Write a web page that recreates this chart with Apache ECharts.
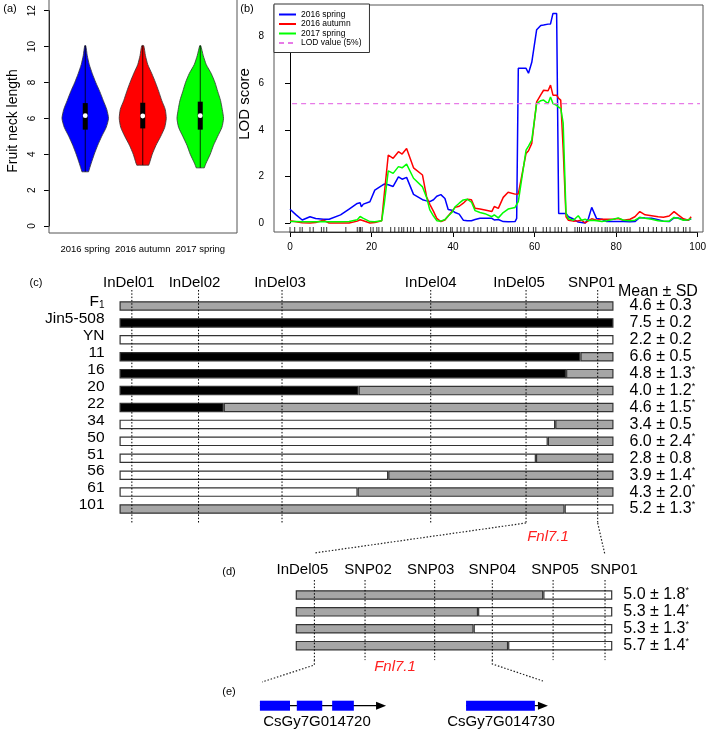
<!DOCTYPE html>
<html><head><meta charset="utf-8">
<script src="https://cdn.jsdelivr.net/npm/echarts@6/dist/echarts.min.js"></script>
<style>html,body{margin:0;padding:0;background:#fff}#c{width:709px;height:733px}</style>
</head><body><div id="c"></div>
<script>
// ---------- (a) violin data ----------
const violinCats = ['2016 spring', '2016 autumn', '2017 spring'];
const vY16s = [3.02, 3.5, 4, 4.5, 5, 5.5, 6, 6.5, 7, 7.5, 8, 8.5, 9, 9.5, 10.05];
const vW16s = [0.057, 0.104, 0.157, 0.217, 0.287, 0.365, 0.405, 0.374, 0.313, 0.252, 0.183, 0.122, 0.070, 0.035, 0.009];
const vY16a = [3.39, 3.5, 4, 4.5, 5, 5.5, 6, 6.5, 7, 7.5, 8, 8.5, 9, 9.5, 10.05];
const vW16a = [0.104, 0.117, 0.165, 0.231, 0.313, 0.383, 0.409, 0.391, 0.330, 0.278, 0.221, 0.157, 0.087, 0.047, 0.017];
const vY17s = [3.24, 3.5, 4, 4.5, 5, 5.5, 6, 6.5, 7, 7.5, 8, 8.5, 9, 9.5, 10.05];
const vW17s = [0.070, 0.101, 0.174, 0.231, 0.304, 0.377, 0.405, 0.383, 0.353, 0.304, 0.256, 0.191, 0.104, 0.052, 0.009];
const vQ1 = [5.37, 5.44, 5.37];
const vMed = [6.15, 6.13, 6.15];
const vQ3 = [6.85, 6.87, 6.93];
const vMin = [3.02, 3.39, 3.24];
const vMax = [10.05, 10.05, 10.05];
const violinColors = ['#0000ff', '#ff0000', '#00ff00'];

// ---------- (b) LOD data ----------
const lodNames = ['2016 spring', '2016 autumn', '2017 spring'];
const lodPos = [0,1.5,3,4.9,6.3,8.2,9.6,12.4,14.5,16.5,17.2,17.5,18,19.6,20.8,22.5,23.1,24.1,25.3,26.6,27.5,28.6,30.3,32.5,33.5,34.3,35.2,36.0,37.0,38.0,38.8,39.7,40.5,41.5,42.5,43.5,44.5,45.4,46.6,47.8,49.5,50.1,51.1,52.3,53.5,55.2,55.6,56.0,56.4,57.9,58.5,59.3,60.5,61.5,62.2,63.3,63.9,64.5,65.4,65.9,66.4,67.0,67.7,68.3,69.5,70.7,71.5,72.4,73.2,74.0,74.4,75.2,76.5,77.7,79.3,80.5,81.8,83.4,84.6,85.8,87.1,88.7,90.3,91.6,93.0,94.2,95.2,96.5,97.7,98.4];
const lodSpring16 = [0.59,0.35,0.13,0.27,0.19,0.16,0.16,0.35,0.6,0.84,0.87,0.7,0.81,0.91,1.41,1.6,1.67,1.64,1.57,1.98,1.88,1.96,1.23,1.0,0.95,0.92,1.0,1.15,1.22,1.05,0.58,0.55,0.45,0.38,0.12,0.1,0.1,0.15,0.2,0.2,0.2,0.13,0.15,0.06,0.05,0.06,0.2,6.64,6.64,6.64,6.43,6.9,8.3,8.48,8.5,8.54,8.55,9.0,9.0,0.41,0.41,0.41,0.41,0.27,0.17,0.04,0.02,0.0,0.19,0.67,0.67,0.19,0.16,0.06,0.06,0.06,0.06,0.05,0.06,0.24,0.22,0.2,0.14,0.08,0.06,0.22,0.22,0.14,0.12,0.19];
const lodAutumn16 = [0.1,0.05,0.01,0.0,0.02,0.12,0.0,0.0,0.0,0.08,0.14,0.16,0.1,0.0,0.02,0.1,1.2,2.92,2.78,3.06,2.96,3.2,2.37,2.06,1.13,0.8,0.5,0.2,0.06,0.13,0.3,0.49,0.67,0.72,0.85,1.02,1.0,0.63,0.6,0.56,0.49,0.71,0.63,1.1,1.32,1.24,1.24,1.25,1.27,2.99,3.1,3.42,5.2,5.5,5.7,5.68,5.92,5.49,5.49,5.35,5.28,3.2,0.27,0.12,0.08,0.1,0.12,0.0,0.1,0.18,0.17,0.12,0.16,0.16,0.16,0.19,0.12,0.16,0.27,0.49,0.35,0.31,0.27,0.25,0.3,0.49,0.35,0.18,0.12,0.27];
const lodSpring17 = [0.06,0.06,0.05,0.05,0.05,0.06,0.05,0.05,0.06,0.14,0.28,0.35,0.2,0.06,0.05,0.1,0.8,2.24,2.13,2.42,2.37,2.53,1.92,1.55,1.1,0.56,0.3,0.1,0.08,0.15,0.3,0.45,0.7,0.85,0.99,1.02,0.9,0.53,0.45,0.4,0.27,0.35,0.22,0.45,0.6,0.67,0.8,0.92,0.85,3.13,3.3,3.56,5.13,5.25,5.28,5.13,5.41,5.13,5.05,4.97,4.92,4.3,0.4,0.18,0.12,0.31,0.12,0.16,0.1,0.12,0.12,0.1,0.06,0.1,0.16,0.22,0.12,0.1,0.12,0.24,0.2,0.16,0.1,0.08,0.08,0.24,0.2,0.12,0.14,0.19];
const lodThresholdName = 'LOD value (5%)';
const lodThreshold = 5.13;
const lodBoxX = [-3.9, 101.3];
const rugPos = [0,1.15,2.45,3.0,4.9,5.7,7.7,8.3,9.0,13.7,16.5,17.0,17.3,17.7,19.8,20.4,21.3,21.8,22.6,24.7,25.7,26.7,27.4,27.9,28.8,29.6,30.3,32.0,33.5,34.1,34.9,36.1,37.0,37.6,38.4,39.4,39.8,41.0,41.9,42.7,43.9,45.1,46.1,46.8,48.4,49.4,50.0,50.7,52.3,53.5,54.1,54.6,55.2,55.8,56.3,57.2,58.5,59.7,60.3,62.1,62.9,63.8,65.0,65.8,66.6,67.9,69.9,70.5,71.0,71.5,72.4,73.2,74.0,74.8,75.6,76.5,77.3,77.8,78.5,79.2,80.0,80.5,81.2,82.0,82.7,83.4,85.8,86.7,87.9,89.1,89.9,91.2,92.4,93.2,94.4,95.2,96.5,97.1,98.1];

// ---------- (c) graphical genotypes ----------
const cRows = ['F1', 'Jin5-508', 'YN', '11', '16', '20', '22', '34', '50', '51', '56', '61', '101'];
const cBreak = [100, 100, 100, 93.3, 90.4, 48.4, 21.1, 88.2, 86.7, 84.3, 54.4, 48.2, 90.1];
const cLeft  = ['H', 'A', 'B', 'A', 'A', 'A', 'A', 'B', 'B', 'B', 'B', 'B', 'H'];
const cRight = ['H', 'A', 'B', 'H', 'H', 'H', 'H', 'H', 'H', 'H', 'H', 'H', 'B'];
const cMean = [4.6, 7.5, 2.2, 6.6, 4.8, 4.0, 4.6, 3.4, 6.0, 2.8, 3.9, 4.3, 5.2];
const cSD   = [0.3, 0.2, 0.2, 0.5, 1.3, 1.2, 1.5, 0.5, 2.4, 0.8, 1.4, 2.0, 1.3];
const cSig  = [0, 0, 0, 0, 1, 1, 1, 0, 1, 0, 1, 1, 1];
const cMarkers = ['InDel01', 'InDel02', 'InDel03', 'InDel04', 'InDel05', 'SNP01'];
const cMarkerPos = [2.5, 16.0, 32.9, 63.0, 82.3, 96.8];

// ---------- (d) fine mapping ----------
const dRows = ['r1', 'r2', 'r3', 'r4'];
const dBreak = [78.2, 57.6, 56.2, 67.1];
const dLeft  = ['H', 'H', 'H', 'H'];
const dRight = ['B', 'B', 'B', 'B'];
const dMean = [5.0, 5.3, 5.3, 5.7];
const dSD   = [1.8, 1.4, 1.3, 1.4];
const dSig  = [1, 1, 1, 1];
const dMarkers = ['InDel05', 'SNP02', 'SNP03', 'SNP04', 'SNP05', 'SNP01'];
const dMarkerPos = [5.9, 21.9, 43.9, 62.1, 81.3, 97.7];
const qtlName = 'Fnl7.1';

// ---------- (e) gene models ----------
const geneNames = ['CsGy7G014720', 'CsGy7G014730'];
const geneStart = [3.2, 69.7];
const geneEnd = [43.9, 96.1];
const geneExons = [[[3.2, 12.9], [15.1, 23.3], [26.5, 33.5]], [[69.7, 91.9]]];
const eLinkPos = [3.9, 94.5];

// ---------- layout / style ----------
const FONT = '"Liberation Sans", Arial, Helvetica, sans-serif';
const genoColor = {A: '#000000', B: '#ffffff', H: '#a6a6a6'};
const C_LABEL_SHIFT = [-3, -4, -2, 0, -7, -6];
const D_LABEL_SHIFT = [-12, 3, -4, 0, 2, 9];
const ARROW_L = 10, EXON_H = 10;
const LOD_VIOLET = '#e77ae7';

const chart = echarts.init(document.getElementById('c'));

const violinYs = [vY16s, vY16a, vY17s];
const violinWs = [vW16s, vW16a, vW17s];

function renderViolin(params, api) {
  const i = params.dataIndex;
  const ys = violinYs[i], ws = violinWs[i];
  const band = api.size([1, 0])[0];
  const left = [], right = [];
  for (let k = 0; k < ys.length; k++) {
    const p = api.coord([i, ys[k]]);
    left.push([p[0] - ws[k] * band, p[1]]);
    right.push([p[0] + ws[k] * band, p[1]]);
  }
  // duplicate the bottom corners so that the smoothing keeps a flat base
  const pts = [left[0]].concat(left, right.slice().reverse(), [right[0]]);
  const pMin = api.coord([i, vMin[i]]), pMax = api.coord([i, vMax[i]]);
  const p1 = api.coord([i, vQ1[i]]), p3 = api.coord([i, vQ3[i]]), pm = api.coord([i, vMed[i]]);
  return {type: 'group', children: [
    {type: 'polygon', shape: {points: pts, smooth: 0.2}, style: {fill: violinColors[i], stroke: '#333', lineWidth: 0.8}},
    {type: 'line', shape: {x1: pMin[0], y1: pMin[1], x2: pMax[0], y2: pMax[1]}, style: {stroke: '#000', lineWidth: 0.8}},
    {type: 'rect', shape: {x: p3[0] - 2.5, y: p3[1], width: 5, height: p1[1] - p3[1]}, style: {fill: '#000'}},
    {type: 'circle', shape: {cx: pm[0], cy: pm[1], r: 2.4}, style: {fill: '#fff'}}
  ]};
}

function markerRenderer(names, shifts, labelDy, top, bottom) {
  return function (params, api) {
    const i = params.dataIndex;
    const x = api.coord([api.value(0), 0])[0];
    const cs = params.coordSys;
    return {type: 'group', children: [
      {type: 'line', shape: {x1: x, y1: cs.y - top, x2: x, y2: cs.y + cs.height + bottom},
       style: {stroke: '#000', lineWidth: 1, lineDash: [1.5, 1.8]}},
      {type: 'text', x: x + shifts[i], y: cs.y + labelDy,
       style: {text: names[i], fontSize: 15, fontFamily: FONT, fill: '#000', align: 'center', verticalAlign: 'middle'}}
    ]};
  };
}

function renderGene(params, api) {
  const g = params.dataIndex;
  const y = api.coord([0, 0.5])[1];
  const xs = api.coord([geneStart[g], 0.5])[0], xe = api.coord([geneEnd[g], 0.5])[0];
  const children = [
    {type: 'line', shape: {x1: xs, y1: y, x2: xe - ARROW_L + 1, y2: y}, style: {stroke: '#000', lineWidth: 1.2}},
    {type: 'polygon', shape: {points: [[xe - ARROW_L, y - 4], [xe, y], [xe - ARROW_L, y + 4]]}, style: {fill: '#000'}}
  ];
  geneExons[g].forEach(function (ex) {
    const a = api.coord([ex[0], 0.5])[0], b = api.coord([ex[1], 0.5])[0];
    children.push({type: 'rect', shape: {x: a, y: y - EXON_H / 2, width: b - a, height: EXON_H}, style: {fill: '#0000ff'}});
  });
  children.push({type: 'text', x: (xs + xe) / 2 - 6, y: y + 16,
    style: {text: geneNames[g], fontSize: 15, fontFamily: FONT, fill: '#000', align: 'center', verticalAlign: 'middle'}});
  return {type: 'group', children: children};
}

function segData(breaks, leftG, rightG, second) {
  return breaks.map(function (b, i) {
    if (!second) return {value: b, itemStyle: {color: genoColor[leftG[i]]}};
    return b >= 100 ? '-' : {value: 100 - b, itemStyle: {color: genoColor[rightG[i]]}};
  });
}

function meanFmt(means, sds, sig) {
  return function (v, i) {
    return '{v|' + means[i].toFixed(1) + ' \u00b1 ' + sds[i].toFixed(1) + '}' + (sig[i] ? '{s|*}' : '');
  };
}
const meanRich = {
  v: {fontSize: 16, fontFamily: FONT, color: '#000', lineHeight: 18, verticalAlign: 'middle'},
  s: {fontSize: 9, fontFamily: FONT, color: '#000', lineHeight: 9, verticalAlign: 'top'}
};

const axisBlack = {color: '#000', width: 1};
const hiddenVal = function (g, extra) { return Object.assign({type: 'value', gridIndex: g, show: false, min: 0, max: 100}, extra || {}); };

const option = {
  animation: false,
  textStyle: {fontFamily: FONT},
  grid: [
    {left: 56.5, top: 10.7, width: 172.5, height: 215.3, outerBoundsMode: 'none'},
    {left: 290, top: 36.7, width: 407.7, height: 186.3, outerBoundsMode: 'none'},
    {left: 119.5, top: 297.5, width: 494, height: 220, outerBoundsMode: 'none'},
    {left: 295.7, top: 586.5, width: 316.6, height: 67.6, outerBoundsMode: 'none'},
    {left: 250, top: 699.7, width: 310, height: 12, outerBoundsMode: 'none'}
  ],
  legend: {
    left: 274, top: 4, orient: 'vertical', itemWidth: 17, itemHeight: 8, itemGap: 0.5,
    padding: [6, 8, 5, 4], borderColor: '#333', borderWidth: 1, borderRadius: 0, backgroundColor: '#fff',
    selectedMode: false, textStyle: {fontSize: 8.5, color: '#000', fontFamily: FONT},
    itemStyle: {opacity: 0},
    data: lodNames.concat([lodThresholdName])
  },
  xAxis: [
    {type: 'category', gridIndex: 0, data: violinCats, offset: 7,
     axisLine: {show: false, onZero: false}, axisTick: {alignWithLabel: true, length: 5, lineStyle: axisBlack},
     axisLabel: {fontSize: 9.5, color: '#000', margin: 11, interval: 0}},
    {type: 'value', gridIndex: 1, min: 0, max: 100, interval: 20, offset: 9,
     axisLine: {show: true, onZero: false, lineStyle: axisBlack}, axisTick: {show: true, length: 5, lineStyle: axisBlack},
     axisLabel: {fontSize: 10, color: '#000', margin: 10}, splitLine: {show: false}},
    hiddenVal(2), hiddenVal(3), hiddenVal(4)
  ],
  yAxis: [
    {type: 'value', gridIndex: 0, min: 0, max: 12, interval: 2, offset: 7.5,
     axisLine: {show: true, lineStyle: axisBlack}, axisTick: {show: true, length: 5, lineStyle: axisBlack},
     axisLabel: {fontSize: 10, color: '#000', rotate: 90, margin: 12}, splitLine: {show: false}},
    {type: 'value', gridIndex: 1, min: 0, max: 8, interval: 2, offset: 16,
     axisLine: {show: true, lineStyle: axisBlack}, axisTick: {show: true, length: 5, lineStyle: axisBlack},
     axisLabel: {fontSize: 10, color: '#000', margin: 10}, splitLine: {show: false}},
    {type: 'category', gridIndex: 2, data: cRows, inverse: true, position: 'left',
     axisLine: {show: false}, axisTick: {show: false},
     axisLabel: {interval: 0, margin: 15, padding: [0, 0, 10, 0],
       formatter: function (v) { return v === 'F1' ? '{n|F}{s|1}' : '{n|' + v + '}'; },
       rich: {n: {fontSize: 15.5, fontFamily: FONT, color: '#000', lineHeight: 18, verticalAlign: 'bottom'},
              s: {fontSize: 10, fontFamily: FONT, color: '#000', lineHeight: 6, verticalAlign: 'bottom'}}}},
    {type: 'category', gridIndex: 2, data: cRows, inverse: true, position: 'right',
     axisLine: {show: false}, axisTick: {show: false},
     axisLabel: {interval: 0, margin: 16, formatter: meanFmt(cMean, cSD, cSig), rich: meanRich}},
    {type: 'category', gridIndex: 3, data: dRows, inverse: true, position: 'left', show: false},
    {type: 'category', gridIndex: 3, data: dRows, inverse: true, position: 'right',
     axisLine: {show: false}, axisTick: {show: false},
     axisLabel: {interval: 0, margin: 11, formatter: meanFmt(dMean, dSD, dSig), rich: meanRich}},
    {type: 'value', gridIndex: 4, min: 0, max: 1, show: false}
  ],
  series: [
    {type: 'custom', name: 'violin', xAxisIndex: 0, yAxisIndex: 0, data: violinCats.map(function (c, i) { return [i, vMed[i]]; }), renderItem: renderViolin},
    {type: 'line', name: lodNames[0], xAxisIndex: 1, yAxisIndex: 1, symbol: 'none', clip: false, z: 3, color: '#0000ff',
     lineStyle: {color: '#0000ff', width: 1.5}, data: lodPos.map(function (x, i) { return [x, lodSpring16[i]]; })},
    {type: 'line', name: lodNames[1], xAxisIndex: 1, yAxisIndex: 1, symbol: 'none', clip: false, z: 3, color: '#ff0000',
     lineStyle: {color: '#ff0000', width: 1.5}, data: lodPos.map(function (x, i) { return [x, lodAutumn16[i]]; })},
    {type: 'line', name: lodNames[2], xAxisIndex: 1, yAxisIndex: 1, symbol: 'none', clip: false, z: 3, color: '#00ff00',
     lineStyle: {color: '#00ff00', width: 1.5}, data: lodPos.map(function (x, i) { return [x, lodSpring17[i]]; })},
    {type: 'line', name: lodThresholdName, xAxisIndex: 1, yAxisIndex: 1, symbol: 'none', clip: false, z: 4, color: LOD_VIOLET,
     lineStyle: {color: LOD_VIOLET, width: 1.3, type: [5, 4], opacity: 1},
     data: [[lodBoxX[0], lodThreshold], [lodBoxX[1], lodThreshold]]},
    {type: 'custom', name: 'rug', xAxisIndex: 1, yAxisIndex: 1, data: rugPos.map(function (x) { return [x, 0]; }),
     renderItem: function (params, api) {
       const p = api.coord([api.value(0), 0]);
       return {type: 'line', shape: {x1: p[0], y1: p[1] + 4, x2: p[0], y2: p[1] + 9}, style: {stroke: '#000', lineWidth: 0.8}};
     }},
    {type: 'bar', name: 'cLeft', xAxisIndex: 2, yAxisIndex: 2, stack: 'c', barWidth: 9.5,
     itemStyle: {borderColor: '#333', borderWidth: 1.2}, data: segData(cBreak, cLeft, cRight, false)},
    {type: 'bar', name: 'cRight', xAxisIndex: 2, yAxisIndex: 2, stack: 'c', barWidth: 9.5,
     itemStyle: {borderColor: '#333', borderWidth: 1.2}, data: segData(cBreak, cLeft, cRight, true)},
    {type: 'custom', name: 'cMarkers', xAxisIndex: 2, yAxisIndex: 2, z: 5,
     data: cMarkerPos.map(function (p) { return [p, 0]; }), renderItem: markerRenderer(cMarkers, C_LABEL_SHIFT, -14.5, 7.5, 5.5)},
    {type: 'bar', name: 'dLeft', xAxisIndex: 3, yAxisIndex: 4, stack: 'd', barWidth: 9.5,
     itemStyle: {borderColor: '#333', borderWidth: 1.2}, data: segData(dBreak, dLeft, dRight, false)},
    {type: 'bar', name: 'dRight', xAxisIndex: 3, yAxisIndex: 4, stack: 'd', barWidth: 9.5,
     itemStyle: {borderColor: '#333', borderWidth: 1.2}, data: segData(dBreak, dLeft, dRight, true)},
    {type: 'custom', name: 'dMarkers', xAxisIndex: 3, yAxisIndex: 4, z: 5,
     data: dMarkerPos.map(function (p) { return [p, 0]; }), renderItem: markerRenderer(dMarkers, D_LABEL_SHIFT, -16.5, 6.5, 6)},
    {type: 'custom', name: 'genes', xAxisIndex: 4, yAxisIndex: 6,
     data: geneNames.map(function (n, i) { return [geneStart[i], 0.5]; }), renderItem: renderGene}
  ]
};
chart.setOption(option);

// ---------- frames, panel letters, connector lines ----------
const cX = function (v) { return chart.convertToPixel({xAxisIndex: 2}, v); };
const dX = function (v) { return chart.convertToPixel({xAxisIndex: 3}, v); };
const eX = function (v) { return chart.convertToPixel({xAxisIndex: 4}, v); };
function txt(t, x, y, size, extra) {
  return {type: 'text', x: x, y: y, z: 10, style: Object.assign({text: t, fontSize: size, fontFamily: FONT, fill: '#000', align: 'center', verticalAlign: 'middle'}, extra || {})};
}
const dotted = {stroke: '#222', lineWidth: 1.2, lineDash: [1.5, 1.8], fill: null};
const dLast = dMarkerPos.length - 1, cIdx = cMarkers.indexOf('InDel05'), cLast = cMarkers.length - 1, dSnp04 = dMarkers.indexOf('SNP04');
chart.setOption({graphic: [
  {type: 'rect', z: 1, shape: {x: 49, y: -1, width: 188, height: 234}, style: {fill: null, stroke: '#555', lineWidth: 1}},
  {type: 'rect', z: 1, shape: {x: 274, y: 5, width: 429, height: 227}, style: {fill: null, stroke: '#555', lineWidth: 1}},
  txt('(a)', 10, 9, 11), txt('(b)', 247, 9, 11), txt('(c)', 36, 283, 11), txt('(d)', 229, 572, 11), txt('(e)', 229, 692, 11),
  Object.assign(txt('Fruit neck length', 13, 121, 14), {rotation: Math.PI / 2}),
  Object.assign(txt('LOD score', 245, 104, 15), {rotation: Math.PI / 2}),
  txt('Mean \u00b1 SD', 618, 292, 16, {align: 'left'}),
  txt(qtlName, 548, 537, 15, {fill: '#ff2020', fontStyle: 'italic'}),
  txt(qtlName, 395, 667, 15, {fill: '#ff2020', fontStyle: 'italic'}),
  {type: 'polyline', z: 10, shape: {points: [[cX(cMarkerPos[cIdx]), 523], [dX(dMarkerPos[0]), 553]]}, style: dotted},
  {type: 'polyline', z: 10, shape: {points: [[cX(cMarkerPos[cLast]), 523], [dX(dMarkerPos[dLast]), 555]]}, style: dotted},
  {type: 'polyline', z: 10, shape: {points: [[dX(dMarkerPos[0]), 660], [dX(dMarkerPos[0]), 665], [eX(eLinkPos[0]), 682]]}, style: dotted},
  {type: 'polyline', z: 10, shape: {points: [[dX(dMarkerPos[dSnp04]), 660], [dX(dMarkerPos[dSnp04]), 664], [eX(eLinkPos[1]), 681]]}, style: dotted}
]});
</script></body></html>
